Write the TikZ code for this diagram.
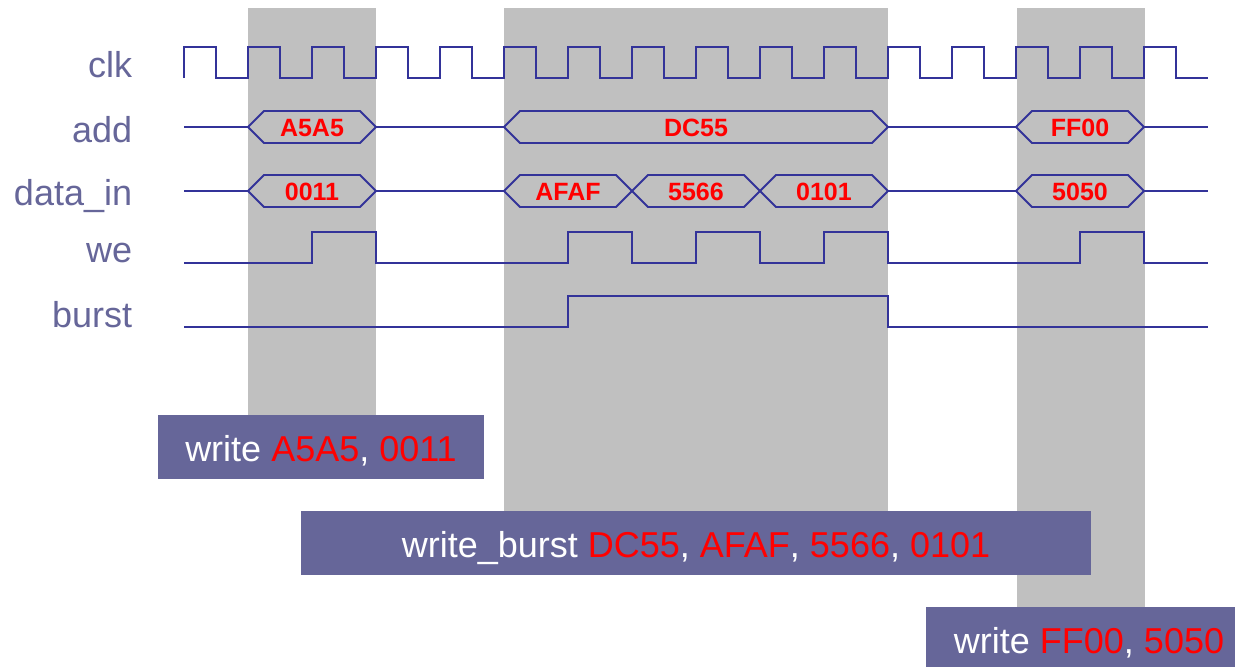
\documentclass[tikz,border=0pt]{standalone}
\usepackage{fontspec}
\setmainfont{Liberation Sans}
\usepackage{tikz}
\usetikzlibrary{positioning, calc}
\definecolor{sigblue}{HTML}{333399}
\definecolor{namelilac}{HTML}{666699}
\definecolor{windowgray}{HTML}{C0C0C0}
\definecolor{valred}{HTML}{FF0000}

\begin{document}
\begin{tikzpicture}[x=1pt, y=-1pt, line width=1.8pt, line join=miter,
    signame/.style={anchor=base east, namelilac, inner sep=0pt,
                    font=\fontsize{36}{40}\selectfont},
    busval/.style={valred, inner sep=0pt, font=\fontsize{25}{28}\selectfont\bfseries},
    cmdbox/.style={fill=namelilac, text=white, inner sep=0pt, minimum height=64pt,
                   text height=28pt, text depth=0pt, font=\fontsize{36}{40}\selectfont}]
  \useasboundingbox (0,0) rectangle (1235,667);

  % write windows
  \fill[windowgray] (248,8) rectangle (376,420);
  \fill[windowgray] (504,8) rectangle (888,515);
  \fill[windowgray] (1017,8) rectangle (1145,612);

  % signal names
  \node[signame] (nclk)   at (133,77)  {clk};
  \node[signame] (nadd)   at (133,142) {add};
  \node[signame] (ndata)  at (133,205) {data\_in};
  \node[signame] (nwe)    at (133,262) {we};
  \node[signame] (nburst) at (133,327) {burst};

  % clk
  \draw[sigblue] (184,78) \foreach \k in {0,...,15} {
      -- ({184+64*\k},47) -- ({216+64*\k},47) -- ({216+64*\k},78) -- ({248+64*\k},78)};

  % add and data_in buses
  \draw[sigblue] (184,127) -- (248,127) (376,127) -- (504,127)
                 (888,127) -- (1016,127) (1144,127) -- (1208,127);
  \draw[sigblue] (184,191) -- (248,191) (376,191) -- (504,191)
                 (888,191) -- (1016,191) (1144,191) -- (1208,191);
  \foreach \xa/\xb/\yc/\val in {248/376/127/A5A5, 504/888/127/DC55, 1016/1144/127/FF00,
                                248/376/191/0011, 504/632/191/AFAF, 632/760/191/5566,
                                760/888/191/0101, 1016/1144/191/5050} {
    \draw[sigblue] (\xa,\yc) -- ({\xa+16},{\yc-16}) -- ({\xb-16},{\yc-16}) -- (\xb,\yc)
                   -- ({\xb-16},{\yc+16}) -- ({\xa+16},{\yc+16}) -- cycle;
    \node[busval] (v\val\yc) at ({(\xa+\xb)/2},{\yc+1}) {\val};
  }

  % we
  \draw[sigblue] (184,263) -- (312,263) -- (312,232) -- (376,232) -- (376,263)
    -- (568,263) -- (568,232) -- (632,232) -- (632,263)
    -- (696,263) -- (696,232) -- (760,232) -- (760,263)
    -- (824,263) -- (824,232) -- (888,232) -- (888,263)
    -- (1080,263) -- (1080,232) -- (1144,232) -- (1144,263) -- (1208,263);

  % burst
  \draw[sigblue] (184,327) -- (568,327) -- (568,296) -- (888,296) -- (888,327) -- (1208,327);

  % commands
  \node[cmdbox, minimum width=326pt] (wr1) at (321,447)
       {write \textcolor{valred}{A5A5}, \textcolor{valred}{0011}};
  \node[cmdbox, minimum width=790pt] (wrb) at (696,543)
       {write\_burst \textcolor{valred}{DC55}, \textcolor{valred}{AFAF},
        \textcolor{valred}{5566}, \textcolor{valred}{0101}};
  \node[cmdbox, minimum width=326pt] (wr2) at (1089,639)
       {write \textcolor{valred}{FF00}, \textcolor{valred}{5050}};
\end{tikzpicture}
\end{document}
